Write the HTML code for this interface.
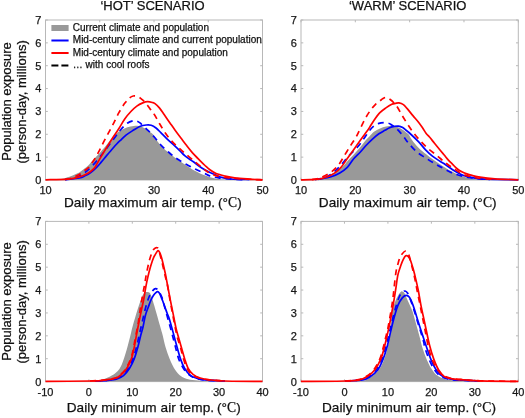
<!DOCTYPE html>
<html><head><meta charset="utf-8"><title>Population exposure</title>
<style>
html,body{margin:0;padding:0;background:#fff;}
body{width:525px;height:418px;overflow:hidden;}
svg{display:block;will-change:transform;filter:blur(0.35px);}
text{font-family:"Liberation Sans",sans-serif;fill:#1a1a1a;stroke:#111;stroke-width:0.25px;}
.tk{font-size:11px;}
.lg{font-size:10px;fill:#111;}
.ti{font-size:13px;fill:#111;}
.xl{font-size:13.6px;fill:#111;letter-spacing:0.07px;}
.yl{font-size:13px;fill:#111;}
</style></head>
<body>
<svg width="525" height="418" viewBox="0 0 525 418">
<rect width="525" height="418" fill="#fff"/>
<rect x="45.50" y="20.00" width="217.00" height="160.00" fill="none" stroke="#b8b8b8" stroke-width="1"/>
<line x1="45.50" y1="180.00" x2="45.50" y2="177.70" stroke="#b8b8b8"/>
<line x1="45.50" y1="20.00" x2="45.50" y2="22.30" stroke="#b8b8b8"/>
<text x="45.50" y="194.20" class="tk" text-anchor="middle">10</text>
<line x1="99.75" y1="180.00" x2="99.75" y2="177.70" stroke="#b8b8b8"/>
<line x1="99.75" y1="20.00" x2="99.75" y2="22.30" stroke="#b8b8b8"/>
<text x="99.75" y="194.20" class="tk" text-anchor="middle">20</text>
<line x1="154.00" y1="180.00" x2="154.00" y2="177.70" stroke="#b8b8b8"/>
<line x1="154.00" y1="20.00" x2="154.00" y2="22.30" stroke="#b8b8b8"/>
<text x="154.00" y="194.20" class="tk" text-anchor="middle">30</text>
<line x1="208.25" y1="180.00" x2="208.25" y2="177.70" stroke="#b8b8b8"/>
<line x1="208.25" y1="20.00" x2="208.25" y2="22.30" stroke="#b8b8b8"/>
<text x="208.25" y="194.20" class="tk" text-anchor="middle">40</text>
<line x1="262.50" y1="180.00" x2="262.50" y2="177.70" stroke="#b8b8b8"/>
<line x1="262.50" y1="20.00" x2="262.50" y2="22.30" stroke="#b8b8b8"/>
<text x="262.50" y="194.20" class="tk" text-anchor="middle">50</text>
<line x1="45.50" y1="180.00" x2="47.80" y2="180.00" stroke="#b8b8b8"/>
<line x1="262.50" y1="180.00" x2="260.20" y2="180.00" stroke="#b8b8b8"/>
<text x="41.30" y="183.90" class="tk" text-anchor="end">0</text>
<line x1="45.50" y1="157.14" x2="47.80" y2="157.14" stroke="#b8b8b8"/>
<line x1="262.50" y1="157.14" x2="260.20" y2="157.14" stroke="#b8b8b8"/>
<text x="41.30" y="161.04" class="tk" text-anchor="end">1</text>
<line x1="45.50" y1="134.29" x2="47.80" y2="134.29" stroke="#b8b8b8"/>
<line x1="262.50" y1="134.29" x2="260.20" y2="134.29" stroke="#b8b8b8"/>
<text x="41.30" y="138.19" class="tk" text-anchor="end">2</text>
<line x1="45.50" y1="111.43" x2="47.80" y2="111.43" stroke="#b8b8b8"/>
<line x1="262.50" y1="111.43" x2="260.20" y2="111.43" stroke="#b8b8b8"/>
<text x="41.30" y="115.33" class="tk" text-anchor="end">3</text>
<line x1="45.50" y1="88.57" x2="47.80" y2="88.57" stroke="#b8b8b8"/>
<line x1="262.50" y1="88.57" x2="260.20" y2="88.57" stroke="#b8b8b8"/>
<text x="41.30" y="92.47" class="tk" text-anchor="end">4</text>
<line x1="45.50" y1="65.71" x2="47.80" y2="65.71" stroke="#b8b8b8"/>
<line x1="262.50" y1="65.71" x2="260.20" y2="65.71" stroke="#b8b8b8"/>
<text x="41.30" y="69.61" class="tk" text-anchor="end">5</text>
<line x1="45.50" y1="42.86" x2="47.80" y2="42.86" stroke="#b8b8b8"/>
<line x1="262.50" y1="42.86" x2="260.20" y2="42.86" stroke="#b8b8b8"/>
<text x="41.30" y="46.76" class="tk" text-anchor="end">6</text>
<line x1="45.50" y1="20.00" x2="47.80" y2="20.00" stroke="#b8b8b8"/>
<line x1="262.50" y1="20.00" x2="260.20" y2="20.00" stroke="#b8b8b8"/>
<text x="41.30" y="23.90" class="tk" text-anchor="end">7</text>
<rect x="301.00" y="20.00" width="217.30" height="160.00" fill="none" stroke="#b8b8b8" stroke-width="1"/>
<line x1="301.00" y1="180.00" x2="301.00" y2="177.70" stroke="#b8b8b8"/>
<line x1="301.00" y1="20.00" x2="301.00" y2="22.30" stroke="#b8b8b8"/>
<text x="301.00" y="194.20" class="tk" text-anchor="middle">10</text>
<line x1="355.32" y1="180.00" x2="355.32" y2="177.70" stroke="#b8b8b8"/>
<line x1="355.32" y1="20.00" x2="355.32" y2="22.30" stroke="#b8b8b8"/>
<text x="355.32" y="194.20" class="tk" text-anchor="middle">20</text>
<line x1="409.65" y1="180.00" x2="409.65" y2="177.70" stroke="#b8b8b8"/>
<line x1="409.65" y1="20.00" x2="409.65" y2="22.30" stroke="#b8b8b8"/>
<text x="409.65" y="194.20" class="tk" text-anchor="middle">30</text>
<line x1="463.97" y1="180.00" x2="463.97" y2="177.70" stroke="#b8b8b8"/>
<line x1="463.97" y1="20.00" x2="463.97" y2="22.30" stroke="#b8b8b8"/>
<text x="463.97" y="194.20" class="tk" text-anchor="middle">40</text>
<line x1="518.30" y1="180.00" x2="518.30" y2="177.70" stroke="#b8b8b8"/>
<line x1="518.30" y1="20.00" x2="518.30" y2="22.30" stroke="#b8b8b8"/>
<text x="518.30" y="194.20" class="tk" text-anchor="middle">50</text>
<line x1="301.00" y1="180.00" x2="303.30" y2="180.00" stroke="#b8b8b8"/>
<line x1="518.30" y1="180.00" x2="516.00" y2="180.00" stroke="#b8b8b8"/>
<text x="296.80" y="183.90" class="tk" text-anchor="end">0</text>
<line x1="301.00" y1="157.14" x2="303.30" y2="157.14" stroke="#b8b8b8"/>
<line x1="518.30" y1="157.14" x2="516.00" y2="157.14" stroke="#b8b8b8"/>
<text x="296.80" y="161.04" class="tk" text-anchor="end">1</text>
<line x1="301.00" y1="134.29" x2="303.30" y2="134.29" stroke="#b8b8b8"/>
<line x1="518.30" y1="134.29" x2="516.00" y2="134.29" stroke="#b8b8b8"/>
<text x="296.80" y="138.19" class="tk" text-anchor="end">2</text>
<line x1="301.00" y1="111.43" x2="303.30" y2="111.43" stroke="#b8b8b8"/>
<line x1="518.30" y1="111.43" x2="516.00" y2="111.43" stroke="#b8b8b8"/>
<text x="296.80" y="115.33" class="tk" text-anchor="end">3</text>
<line x1="301.00" y1="88.57" x2="303.30" y2="88.57" stroke="#b8b8b8"/>
<line x1="518.30" y1="88.57" x2="516.00" y2="88.57" stroke="#b8b8b8"/>
<text x="296.80" y="92.47" class="tk" text-anchor="end">4</text>
<line x1="301.00" y1="65.71" x2="303.30" y2="65.71" stroke="#b8b8b8"/>
<line x1="518.30" y1="65.71" x2="516.00" y2="65.71" stroke="#b8b8b8"/>
<text x="296.80" y="69.61" class="tk" text-anchor="end">5</text>
<line x1="301.00" y1="42.86" x2="303.30" y2="42.86" stroke="#b8b8b8"/>
<line x1="518.30" y1="42.86" x2="516.00" y2="42.86" stroke="#b8b8b8"/>
<text x="296.80" y="46.76" class="tk" text-anchor="end">6</text>
<line x1="301.00" y1="20.00" x2="303.30" y2="20.00" stroke="#b8b8b8"/>
<line x1="518.30" y1="20.00" x2="516.00" y2="20.00" stroke="#b8b8b8"/>
<text x="296.80" y="23.90" class="tk" text-anchor="end">7</text>
<rect x="45.50" y="221.40" width="217.00" height="160.20" fill="none" stroke="#b8b8b8" stroke-width="1"/>
<line x1="45.50" y1="381.60" x2="45.50" y2="379.30" stroke="#b8b8b8"/>
<line x1="45.50" y1="221.40" x2="45.50" y2="223.70" stroke="#b8b8b8"/>
<text x="45.50" y="395.90" class="tk" text-anchor="middle">-10</text>
<line x1="88.90" y1="381.60" x2="88.90" y2="379.30" stroke="#b8b8b8"/>
<line x1="88.90" y1="221.40" x2="88.90" y2="223.70" stroke="#b8b8b8"/>
<text x="88.90" y="395.90" class="tk" text-anchor="middle">0</text>
<line x1="132.30" y1="381.60" x2="132.30" y2="379.30" stroke="#b8b8b8"/>
<line x1="132.30" y1="221.40" x2="132.30" y2="223.70" stroke="#b8b8b8"/>
<text x="132.30" y="395.90" class="tk" text-anchor="middle">10</text>
<line x1="175.70" y1="381.60" x2="175.70" y2="379.30" stroke="#b8b8b8"/>
<line x1="175.70" y1="221.40" x2="175.70" y2="223.70" stroke="#b8b8b8"/>
<text x="175.70" y="395.90" class="tk" text-anchor="middle">20</text>
<line x1="219.10" y1="381.60" x2="219.10" y2="379.30" stroke="#b8b8b8"/>
<line x1="219.10" y1="221.40" x2="219.10" y2="223.70" stroke="#b8b8b8"/>
<text x="219.10" y="395.90" class="tk" text-anchor="middle">30</text>
<line x1="262.50" y1="381.60" x2="262.50" y2="379.30" stroke="#b8b8b8"/>
<line x1="262.50" y1="221.40" x2="262.50" y2="223.70" stroke="#b8b8b8"/>
<text x="262.50" y="395.90" class="tk" text-anchor="middle">40</text>
<line x1="45.50" y1="381.60" x2="47.80" y2="381.60" stroke="#b8b8b8"/>
<line x1="262.50" y1="381.60" x2="260.20" y2="381.60" stroke="#b8b8b8"/>
<text x="41.30" y="385.50" class="tk" text-anchor="end">0</text>
<line x1="45.50" y1="358.71" x2="47.80" y2="358.71" stroke="#b8b8b8"/>
<line x1="262.50" y1="358.71" x2="260.20" y2="358.71" stroke="#b8b8b8"/>
<text x="41.30" y="362.61" class="tk" text-anchor="end">1</text>
<line x1="45.50" y1="335.83" x2="47.80" y2="335.83" stroke="#b8b8b8"/>
<line x1="262.50" y1="335.83" x2="260.20" y2="335.83" stroke="#b8b8b8"/>
<text x="41.30" y="339.73" class="tk" text-anchor="end">2</text>
<line x1="45.50" y1="312.94" x2="47.80" y2="312.94" stroke="#b8b8b8"/>
<line x1="262.50" y1="312.94" x2="260.20" y2="312.94" stroke="#b8b8b8"/>
<text x="41.30" y="316.84" class="tk" text-anchor="end">3</text>
<line x1="45.50" y1="290.06" x2="47.80" y2="290.06" stroke="#b8b8b8"/>
<line x1="262.50" y1="290.06" x2="260.20" y2="290.06" stroke="#b8b8b8"/>
<text x="41.30" y="293.96" class="tk" text-anchor="end">4</text>
<line x1="45.50" y1="267.17" x2="47.80" y2="267.17" stroke="#b8b8b8"/>
<line x1="262.50" y1="267.17" x2="260.20" y2="267.17" stroke="#b8b8b8"/>
<text x="41.30" y="271.07" class="tk" text-anchor="end">5</text>
<line x1="45.50" y1="244.29" x2="47.80" y2="244.29" stroke="#b8b8b8"/>
<line x1="262.50" y1="244.29" x2="260.20" y2="244.29" stroke="#b8b8b8"/>
<text x="41.30" y="248.19" class="tk" text-anchor="end">6</text>
<line x1="45.50" y1="221.40" x2="47.80" y2="221.40" stroke="#b8b8b8"/>
<line x1="262.50" y1="221.40" x2="260.20" y2="221.40" stroke="#b8b8b8"/>
<text x="41.30" y="225.30" class="tk" text-anchor="end">7</text>
<rect x="301.00" y="221.40" width="217.30" height="160.20" fill="none" stroke="#b8b8b8" stroke-width="1"/>
<line x1="301.00" y1="381.60" x2="301.00" y2="379.30" stroke="#b8b8b8"/>
<line x1="301.00" y1="221.40" x2="301.00" y2="223.70" stroke="#b8b8b8"/>
<text x="301.00" y="395.90" class="tk" text-anchor="middle">-10</text>
<line x1="344.46" y1="381.60" x2="344.46" y2="379.30" stroke="#b8b8b8"/>
<line x1="344.46" y1="221.40" x2="344.46" y2="223.70" stroke="#b8b8b8"/>
<text x="344.46" y="395.90" class="tk" text-anchor="middle">0</text>
<line x1="387.92" y1="381.60" x2="387.92" y2="379.30" stroke="#b8b8b8"/>
<line x1="387.92" y1="221.40" x2="387.92" y2="223.70" stroke="#b8b8b8"/>
<text x="387.92" y="395.90" class="tk" text-anchor="middle">10</text>
<line x1="431.38" y1="381.60" x2="431.38" y2="379.30" stroke="#b8b8b8"/>
<line x1="431.38" y1="221.40" x2="431.38" y2="223.70" stroke="#b8b8b8"/>
<text x="431.38" y="395.90" class="tk" text-anchor="middle">20</text>
<line x1="474.84" y1="381.60" x2="474.84" y2="379.30" stroke="#b8b8b8"/>
<line x1="474.84" y1="221.40" x2="474.84" y2="223.70" stroke="#b8b8b8"/>
<text x="474.84" y="395.90" class="tk" text-anchor="middle">30</text>
<line x1="518.30" y1="381.60" x2="518.30" y2="379.30" stroke="#b8b8b8"/>
<line x1="518.30" y1="221.40" x2="518.30" y2="223.70" stroke="#b8b8b8"/>
<text x="518.30" y="395.90" class="tk" text-anchor="middle">40</text>
<line x1="301.00" y1="381.60" x2="303.30" y2="381.60" stroke="#b8b8b8"/>
<line x1="518.30" y1="381.60" x2="516.00" y2="381.60" stroke="#b8b8b8"/>
<text x="296.80" y="385.50" class="tk" text-anchor="end">0</text>
<line x1="301.00" y1="358.71" x2="303.30" y2="358.71" stroke="#b8b8b8"/>
<line x1="518.30" y1="358.71" x2="516.00" y2="358.71" stroke="#b8b8b8"/>
<text x="296.80" y="362.61" class="tk" text-anchor="end">1</text>
<line x1="301.00" y1="335.83" x2="303.30" y2="335.83" stroke="#b8b8b8"/>
<line x1="518.30" y1="335.83" x2="516.00" y2="335.83" stroke="#b8b8b8"/>
<text x="296.80" y="339.73" class="tk" text-anchor="end">2</text>
<line x1="301.00" y1="312.94" x2="303.30" y2="312.94" stroke="#b8b8b8"/>
<line x1="518.30" y1="312.94" x2="516.00" y2="312.94" stroke="#b8b8b8"/>
<text x="296.80" y="316.84" class="tk" text-anchor="end">3</text>
<line x1="301.00" y1="290.06" x2="303.30" y2="290.06" stroke="#b8b8b8"/>
<line x1="518.30" y1="290.06" x2="516.00" y2="290.06" stroke="#b8b8b8"/>
<text x="296.80" y="293.96" class="tk" text-anchor="end">4</text>
<line x1="301.00" y1="267.17" x2="303.30" y2="267.17" stroke="#b8b8b8"/>
<line x1="518.30" y1="267.17" x2="516.00" y2="267.17" stroke="#b8b8b8"/>
<text x="296.80" y="271.07" class="tk" text-anchor="end">5</text>
<line x1="301.00" y1="244.29" x2="303.30" y2="244.29" stroke="#b8b8b8"/>
<line x1="518.30" y1="244.29" x2="516.00" y2="244.29" stroke="#b8b8b8"/>
<text x="296.80" y="248.19" class="tk" text-anchor="end">6</text>
<line x1="301.00" y1="221.40" x2="303.30" y2="221.40" stroke="#b8b8b8"/>
<line x1="518.30" y1="221.40" x2="516.00" y2="221.40" stroke="#b8b8b8"/>
<text x="296.80" y="225.30" class="tk" text-anchor="end">7</text>
<path d="M45.50 179.80 C47.08 179.78 52.58 179.80 55.00 179.70 C57.42 179.60 58.23 179.50 60.00 179.20 C61.77 178.90 63.40 178.57 65.60 177.90 C67.80 177.23 70.92 176.08 73.20 175.20 C75.48 174.32 77.52 173.62 79.30 172.60 C81.08 171.58 82.37 170.32 83.90 169.10 C85.43 167.88 87.10 166.68 88.50 165.30 C89.90 163.92 90.60 162.68 92.30 160.80 C94.00 158.92 96.75 156.13 98.70 154.00 C100.65 151.87 102.12 150.25 104.00 148.00 C105.88 145.75 108.32 142.45 110.00 140.50 C111.68 138.55 112.68 137.75 114.10 136.30 C115.52 134.85 116.77 133.08 118.50 131.80 C120.23 130.52 122.50 129.47 124.50 128.60 C126.50 127.73 128.45 127.07 130.50 126.60 C132.55 126.13 135.05 125.83 136.80 125.80 C138.55 125.77 139.77 126.05 141.00 126.40 C142.23 126.75 142.97 127.22 144.20 127.90 C145.43 128.58 147.43 129.82 148.40 130.50 C149.37 131.18 149.20 131.33 150.00 132.00 C150.80 132.67 152.20 133.28 153.20 134.50 C154.20 135.72 154.87 137.63 156.00 139.30 C157.13 140.97 158.67 142.92 160.00 144.50 C161.33 146.08 162.75 147.58 164.00 148.80 C165.25 150.02 165.77 150.40 167.50 151.80 C169.23 153.20 172.07 155.45 174.40 157.20 C176.73 158.95 179.12 160.65 181.50 162.30 C183.88 163.95 186.72 165.80 188.70 167.10 C190.68 168.40 191.22 168.90 193.40 170.10 C195.58 171.30 199.02 173.12 201.80 174.30 C204.58 175.48 207.30 176.42 210.10 177.20 C212.90 177.98 215.28 178.57 218.60 179.00 C221.92 179.43 222.68 179.67 230.00 179.80 C237.32 179.93 257.08 179.80 262.50 179.80 L262.50 180.00 L45.50 180.00 Z" fill="#999999" stroke="none"/>
<path d="M65.00 179.60 C67.38 179.33 75.97 178.63 79.30 178.00 C82.63 177.37 83.10 176.72 85.00 175.80 C86.90 174.88 88.77 173.92 90.70 172.50 C92.63 171.08 94.88 168.98 96.60 167.30 C98.32 165.62 99.33 164.35 101.00 162.40 C102.67 160.45 104.93 157.58 106.60 155.60 C108.27 153.62 109.32 152.43 111.00 150.50 C112.68 148.57 115.03 145.78 116.70 144.00 C118.37 142.22 119.45 141.27 121.00 139.80 C122.55 138.33 124.05 136.73 126.00 135.20 C127.95 133.67 130.30 132.10 132.70 130.60 C135.10 129.10 138.12 127.13 140.40 126.20 C142.68 125.27 144.60 125.15 146.40 125.00 C148.20 124.85 149.60 124.80 151.20 125.30 C152.80 125.80 154.40 126.78 156.00 128.00 C157.60 129.22 159.02 130.83 160.80 132.60 C162.58 134.37 164.68 136.68 166.70 138.60 C168.72 140.52 170.73 142.10 172.90 144.10 C175.07 146.10 177.68 148.63 179.70 150.60 C181.72 152.57 182.72 154.03 185.00 155.90 C187.28 157.77 190.60 159.78 193.40 161.80 C196.20 163.82 199.02 166.20 201.80 168.00 C204.58 169.80 207.90 171.48 210.10 172.60 C212.30 173.72 213.10 173.90 215.00 174.70 C216.90 175.50 218.83 176.68 221.50 177.40 C224.17 178.12 226.33 178.63 231.00 179.00 C235.67 179.37 246.42 179.50 249.50 179.60" fill="none" stroke="#0000ff" stroke-width="1.7" stroke-linejoin="round"/>
<path d="M65.00 179.50 C66.67 179.25 72.33 178.75 75.00 178.00 C77.67 177.25 78.95 176.23 81.00 175.00 C83.05 173.77 84.92 172.67 87.30 170.60 C89.68 168.53 92.80 165.37 95.30 162.60 C97.80 159.83 100.10 156.80 102.30 154.00 C104.50 151.20 106.35 148.63 108.50 145.80 C110.65 142.97 113.13 139.72 115.20 137.00 C117.27 134.28 118.88 131.78 120.90 129.50 C122.92 127.22 125.25 124.75 127.30 123.30 C129.35 121.85 131.62 121.18 133.20 120.80 C134.78 120.42 135.67 120.65 136.80 121.00 C137.93 121.35 139.00 122.15 140.00 122.90 C141.00 123.65 141.33 124.12 142.80 125.50 C144.27 126.88 146.88 129.28 148.80 131.20 C150.72 133.12 152.23 134.65 154.30 137.00 C156.37 139.35 158.75 142.72 161.20 145.30 C163.65 147.88 166.37 150.25 169.00 152.50 C171.63 154.75 174.07 156.80 177.00 158.80 C179.93 160.80 183.48 162.75 186.60 164.50 C189.72 166.25 192.72 167.83 195.70 169.30 C198.68 170.77 202.12 172.18 204.50 173.30 C206.88 174.42 207.65 175.23 210.00 176.00 C212.35 176.77 215.10 177.38 218.60 177.90 C222.10 178.42 226.60 178.78 231.00 179.10 C235.40 179.42 242.67 179.68 245.00 179.80" fill="none" stroke="#0000ff" stroke-width="1.7" stroke-linejoin="round" stroke-dasharray="6 4.8"/>
<path d="M45.50 179.80 C49.23 179.68 62.27 179.58 67.90 179.10 C73.53 178.62 75.88 177.93 79.30 176.90 C82.72 175.87 85.93 174.33 88.40 172.90 C90.87 171.47 92.72 169.73 94.10 168.30 C95.48 166.87 95.43 166.42 96.70 164.30 C97.97 162.18 99.88 158.65 101.70 155.60 C103.52 152.55 105.65 149.13 107.60 146.00 C109.55 142.87 111.52 139.72 113.40 136.80 C115.28 133.88 116.98 131.52 118.90 128.50 C120.82 125.48 122.90 121.53 124.90 118.70 C126.90 115.87 128.92 113.60 130.90 111.50 C132.88 109.40 134.82 107.53 136.80 106.10 C138.78 104.67 141.00 103.63 142.80 102.90 C144.60 102.17 146.00 101.77 147.60 101.70 C149.20 101.63 151.17 102.17 152.40 102.50 C153.63 102.83 153.80 102.77 155.00 103.70 C156.20 104.63 158.05 106.25 159.60 108.10 C161.15 109.95 162.52 112.25 164.30 114.80 C166.08 117.35 168.50 120.83 170.30 123.40 C172.10 125.97 173.30 127.72 175.10 130.20 C176.90 132.68 179.28 135.87 181.10 138.30 C182.92 140.73 184.13 142.42 186.00 144.80 C187.87 147.18 189.97 149.97 192.30 152.60 C194.63 155.23 197.88 158.45 200.00 160.60 C202.12 162.75 203.35 163.97 205.00 165.50 C206.65 167.03 208.05 168.47 209.90 169.80 C211.75 171.13 213.62 172.47 216.10 173.50 C218.58 174.53 221.70 175.27 224.80 176.00 C227.90 176.73 230.58 177.38 234.70 177.90 C238.82 178.42 244.87 178.78 249.50 179.10 C254.13 179.42 260.33 179.68 262.50 179.80" fill="none" stroke="#ff0000" stroke-width="1.7" stroke-linejoin="round"/>
<path d="M65.00 179.40 C66.17 179.17 69.82 178.72 72.00 178.00 C74.18 177.28 76.10 176.27 78.10 175.10 C80.10 173.93 82.28 172.23 84.00 171.00 C85.72 169.77 87.07 169.07 88.40 167.70 C89.73 166.33 90.90 164.33 92.00 162.80 C93.10 161.27 93.80 160.48 95.00 158.50 C96.20 156.52 97.67 153.83 99.20 150.90 C100.73 147.97 102.53 144.10 104.20 140.90 C105.87 137.70 107.55 134.80 109.20 131.70 C110.85 128.60 112.48 125.47 114.10 122.30 C115.72 119.13 117.10 115.90 118.90 112.70 C120.70 109.50 123.10 105.58 124.90 103.10 C126.70 100.62 128.32 98.98 129.70 97.80 C131.08 96.62 131.82 96.20 133.20 96.00 C134.58 95.80 136.40 95.90 138.00 96.60 C139.60 97.30 141.20 98.72 142.80 100.20 C144.40 101.68 146.00 103.50 147.60 105.50 C149.20 107.50 151.20 110.57 152.40 112.20 C153.60 113.83 153.60 113.38 154.80 115.30 C156.00 117.22 157.82 120.72 159.60 123.70 C161.38 126.68 163.52 130.35 165.50 133.20 C167.48 136.05 169.13 138.22 171.50 140.80 C173.87 143.38 177.00 146.23 179.70 148.70 C182.40 151.17 185.03 153.32 187.70 155.60 C190.37 157.88 193.23 160.33 195.70 162.40 C198.17 164.47 200.55 166.45 202.50 168.00 C204.45 169.55 205.33 170.47 207.40 171.70 C209.47 172.93 212.00 174.43 214.90 175.40 C217.80 176.37 221.10 176.95 224.80 177.50 C228.50 178.05 230.82 178.32 237.10 178.70 C243.38 179.08 258.27 179.62 262.50 179.80" fill="none" stroke="#ff0000" stroke-width="1.7" stroke-linejoin="round" stroke-dasharray="6 4.8"/>
<path d="M301.00 179.80 C302.58 179.78 308.08 179.80 310.50 179.70 C312.92 179.60 313.73 179.50 315.50 179.20 C317.27 178.90 318.90 178.57 321.10 177.90 C323.30 177.23 326.42 176.08 328.70 175.20 C330.98 174.32 333.02 173.62 334.80 172.60 C336.58 171.58 337.87 170.32 339.40 169.10 C340.93 167.88 342.60 166.68 344.00 165.30 C345.40 163.92 346.10 162.68 347.80 160.80 C349.50 158.92 352.25 156.13 354.20 154.00 C356.15 151.87 357.62 150.25 359.50 148.00 C361.38 145.75 363.82 142.45 365.50 140.50 C367.18 138.55 368.18 137.75 369.60 136.30 C371.02 134.85 372.27 133.08 374.00 131.80 C375.73 130.52 378.00 129.47 380.00 128.60 C382.00 127.73 383.95 127.07 386.00 126.60 C388.05 126.13 390.55 125.83 392.30 125.80 C394.05 125.77 395.27 126.05 396.50 126.40 C397.73 126.75 398.47 127.22 399.70 127.90 C400.93 128.58 402.93 129.82 403.90 130.50 C404.87 131.18 404.70 131.33 405.50 132.00 C406.30 132.67 407.70 133.28 408.70 134.50 C409.70 135.72 410.37 137.63 411.50 139.30 C412.63 140.97 414.17 142.92 415.50 144.50 C416.83 146.08 418.25 147.58 419.50 148.80 C420.75 150.02 421.27 150.40 423.00 151.80 C424.73 153.20 427.57 155.45 429.90 157.20 C432.23 158.95 434.62 160.65 437.00 162.30 C439.38 163.95 442.22 165.80 444.20 167.10 C446.18 168.40 446.72 168.90 448.90 170.10 C451.08 171.30 454.52 173.12 457.30 174.30 C460.08 175.48 462.80 176.42 465.60 177.20 C468.40 177.98 470.78 178.57 474.10 179.00 C477.42 179.43 478.13 179.67 485.50 179.80 C492.87 179.93 512.83 179.80 518.30 179.80 L518.30 180.00 L301.00 180.00 Z" fill="#999999" stroke="none"/>
<path d="M318.00 179.50 C320.18 179.03 327.47 177.80 331.10 176.70 C334.73 175.60 337.10 174.47 339.80 172.90 C342.50 171.33 345.02 169.62 347.30 167.30 C349.58 164.98 351.32 161.55 353.50 159.00 C355.68 156.45 358.23 154.33 360.40 152.00 C362.57 149.67 364.53 147.12 366.50 145.00 C368.47 142.88 370.13 141.17 372.20 139.30 C374.27 137.43 376.77 135.30 378.90 133.80 C381.03 132.30 383.22 131.30 385.00 130.30 C386.78 129.30 388.05 128.45 389.60 127.80 C391.15 127.15 392.82 126.68 394.30 126.40 C395.78 126.12 397.10 125.90 398.50 126.10 C399.90 126.30 401.40 126.87 402.70 127.60 C404.00 128.33 405.08 129.52 406.30 130.50 C407.52 131.48 407.93 131.60 410.00 133.50 C412.07 135.40 416.10 139.17 418.70 141.90 C421.30 144.63 423.32 147.52 425.60 149.90 C427.88 152.28 430.00 154.30 432.40 156.20 C434.80 158.10 438.03 160.03 440.00 161.30 C441.97 162.57 442.80 162.88 444.20 163.80 C445.60 164.72 447.00 165.82 448.40 166.80 C449.80 167.78 451.20 168.80 452.60 169.70 C454.00 170.60 455.27 171.37 456.80 172.20 C458.33 173.03 460.13 174.00 461.80 174.70 C463.47 175.40 464.60 175.82 466.80 176.40 C469.00 176.98 471.97 177.73 475.00 178.20 C478.03 178.67 477.78 178.93 485.00 179.20 C492.22 179.47 512.75 179.70 518.30 179.80" fill="none" stroke="#0000ff" stroke-width="1.7" stroke-linejoin="round"/>
<path d="M315.00 179.60 C316.67 179.25 321.90 178.72 325.00 177.50 C328.10 176.28 330.92 174.40 333.60 172.30 C336.28 170.20 338.62 167.60 341.10 164.90 C343.58 162.20 345.87 158.95 348.50 156.10 C351.13 153.25 354.38 150.63 356.90 147.80 C359.42 144.97 361.53 141.93 363.60 139.10 C365.67 136.27 367.55 133.02 369.30 130.80 C371.05 128.58 372.50 127.03 374.10 125.80 C375.70 124.57 377.30 123.93 378.90 123.40 C380.50 122.87 382.27 122.67 383.70 122.60 C385.13 122.53 386.35 122.73 387.50 123.00 C388.65 123.27 389.10 123.28 390.60 124.20 C392.10 125.12 394.68 126.87 396.50 128.50 C398.32 130.13 400.08 132.33 401.50 134.00 C402.92 135.67 403.85 137.00 405.00 138.50 C406.15 140.00 406.50 140.82 408.40 143.00 C410.30 145.18 413.53 149.12 416.40 151.60 C419.27 154.08 422.55 155.90 425.60 157.90 C428.65 159.90 431.65 161.80 434.70 163.60 C437.75 165.40 440.85 167.08 443.90 168.70 C446.95 170.32 449.97 172.07 453.00 173.30 C456.03 174.53 458.43 175.23 462.10 176.10 C465.77 176.97 470.35 177.93 475.00 178.50 C479.65 179.07 487.50 179.33 490.00 179.50" fill="none" stroke="#0000ff" stroke-width="1.7" stroke-linejoin="round" stroke-dasharray="6 4.8"/>
<path d="M301.00 179.80 C302.50 179.78 307.05 179.80 310.00 179.70 C312.95 179.60 315.80 179.70 318.70 179.20 C321.60 178.70 324.70 177.75 327.40 176.70 C330.10 175.65 332.62 174.47 334.90 172.90 C337.18 171.33 339.03 169.68 341.10 167.30 C343.17 164.92 345.23 161.50 347.30 158.60 C349.37 155.70 351.42 152.82 353.50 149.90 C355.58 146.98 357.95 143.68 359.80 141.10 C361.65 138.52 363.00 136.63 364.60 134.40 C366.20 132.17 367.85 130.02 369.40 127.70 C370.95 125.38 372.15 123.00 373.90 120.50 C375.65 118.00 377.90 114.80 379.90 112.70 C381.90 110.60 383.92 109.30 385.90 107.90 C387.88 106.50 390.22 105.05 391.80 104.30 C393.38 103.55 394.20 103.63 395.40 103.40 C396.60 103.17 397.67 102.70 399.00 102.90 C400.33 103.10 402.07 103.68 403.40 104.60 C404.73 105.52 405.42 106.57 407.00 108.40 C408.58 110.23 410.92 113.22 412.90 115.60 C414.88 117.98 417.22 120.55 418.90 122.70 C420.58 124.85 421.82 126.75 423.00 128.50 C424.18 130.25 424.88 131.73 426.00 133.20 C427.12 134.67 428.28 135.62 429.70 137.30 C431.12 138.98 432.78 141.18 434.50 143.30 C436.22 145.42 438.38 148.05 440.00 150.00 C441.62 151.95 442.80 153.32 444.20 155.00 C445.60 156.68 447.00 158.55 448.40 160.10 C449.80 161.65 451.20 162.90 452.60 164.30 C454.00 165.70 455.27 167.25 456.80 168.50 C458.33 169.75 460.13 170.90 461.80 171.80 C463.47 172.70 465.10 173.30 466.80 173.90 C468.50 174.50 469.80 174.85 472.00 175.40 C474.20 175.95 476.17 176.63 480.00 177.20 C483.83 177.77 488.62 178.37 495.00 178.80 C501.38 179.23 514.42 179.63 518.30 179.80" fill="none" stroke="#ff0000" stroke-width="1.7" stroke-linejoin="round"/>
<path d="M312.00 179.60 C313.00 179.42 315.85 179.13 318.00 178.50 C320.15 177.87 322.50 177.03 324.90 175.80 C327.30 174.57 330.12 172.92 332.40 171.10 C334.68 169.28 336.53 167.60 338.60 164.90 C340.67 162.20 342.73 158.23 344.80 154.90 C346.87 151.57 349.13 147.85 351.00 144.90 C352.87 141.95 354.38 140.07 356.00 137.20 C357.62 134.33 359.12 130.88 360.70 127.70 C362.28 124.52 363.90 120.97 365.50 118.10 C367.10 115.23 368.70 112.72 370.30 110.50 C371.90 108.28 373.52 106.38 375.10 104.80 C376.68 103.22 378.48 102.03 379.80 101.00 C381.12 99.97 381.98 99.20 383.00 98.60 C384.02 98.00 384.83 97.33 385.90 97.40 C386.97 97.47 388.02 98.05 389.40 99.00 C390.78 99.95 392.83 101.68 394.20 103.10 C395.57 104.52 396.27 105.42 397.60 107.50 C398.93 109.58 400.43 112.67 402.20 115.60 C403.97 118.53 406.22 122.12 408.20 125.10 C410.18 128.08 411.92 130.70 414.10 133.50 C416.28 136.30 418.90 139.32 421.30 141.90 C423.70 144.48 425.88 146.72 428.50 149.00 C431.12 151.28 434.25 153.37 437.00 155.60 C439.75 157.83 442.33 160.32 445.00 162.40 C447.67 164.48 450.15 166.18 453.00 168.10 C455.85 170.02 459.27 172.50 462.10 173.90 C464.93 175.30 467.02 175.77 470.00 176.50 C472.98 177.23 475.83 177.80 480.00 178.30 C484.17 178.80 492.50 179.30 495.00 179.50" fill="none" stroke="#ff0000" stroke-width="1.7" stroke-linejoin="round" stroke-dasharray="6 4.8"/>
<path d="M45.50 381.40 C51.25 381.40 71.58 381.47 80.00 381.40 C88.42 381.33 92.17 381.32 96.00 381.00 C99.83 380.68 100.83 380.15 103.00 379.50 C105.17 378.85 107.00 378.10 109.00 377.10 C111.00 376.10 113.40 374.67 115.00 373.50 C116.60 372.33 117.47 371.62 118.60 370.10 C119.73 368.58 120.85 366.50 121.80 364.40 C122.75 362.30 123.50 359.90 124.30 357.50 C125.10 355.10 125.85 352.63 126.60 350.00 C127.35 347.37 128.08 344.47 128.80 341.70 C129.52 338.93 130.20 336.18 130.90 333.40 C131.60 330.62 131.95 328.77 133.00 325.00 C134.05 321.23 135.78 315.32 137.20 310.80 C138.62 306.28 140.45 300.70 141.50 297.90 C142.55 295.10 142.90 294.95 143.50 294.00 C144.10 293.05 144.23 292.50 145.10 292.20 C145.97 291.90 147.73 291.73 148.70 292.20 C149.67 292.67 150.07 293.08 150.90 295.00 C151.73 296.92 152.75 300.58 153.70 303.70 C154.65 306.82 155.52 309.88 156.60 313.70 C157.68 317.52 159.17 322.92 160.20 326.60 C161.23 330.28 161.92 332.40 162.80 335.80 C163.68 339.20 164.35 343.15 165.50 347.00 C166.65 350.85 168.10 355.12 169.70 358.90 C171.30 362.68 173.20 366.82 175.10 369.70 C177.00 372.58 178.92 374.62 181.10 376.20 C183.28 377.78 185.42 378.50 188.20 379.20 C190.98 379.90 194.17 380.07 197.80 380.40 C201.43 380.73 199.22 381.03 210.00 381.20 C220.78 381.37 253.75 381.37 262.50 381.40 L262.50 381.60 L45.50 381.60 Z" fill="#999999" stroke="none"/>
<path d="M95.00 381.20 C97.15 381.07 104.35 380.73 107.90 380.40 C111.45 380.07 113.70 380.00 116.30 379.20 C118.90 378.40 121.32 377.38 123.50 375.60 C125.68 373.82 127.62 371.28 129.40 368.50 C131.18 365.72 132.77 362.57 134.20 358.90 C135.63 355.23 136.90 350.48 138.00 346.50 C139.10 342.52 139.97 338.25 140.80 335.00 C141.63 331.75 142.22 330.33 143.00 327.00 C143.78 323.67 144.60 318.37 145.50 315.00 C146.40 311.63 147.50 309.28 148.40 306.80 C149.30 304.32 150.07 301.98 150.90 300.10 C151.73 298.22 152.57 296.75 153.40 295.50 C154.23 294.25 155.20 293.25 155.90 292.60 C156.60 291.95 157.03 291.53 157.60 291.60 C158.17 291.67 158.75 292.22 159.30 293.00 C159.85 293.78 160.28 294.83 160.90 296.30 C161.52 297.77 162.30 299.92 163.00 301.80 C163.70 303.68 164.40 305.65 165.10 307.60 C165.80 309.55 166.47 311.53 167.20 313.50 C167.93 315.47 168.52 316.25 169.50 319.40 C170.48 322.55 171.98 328.30 173.10 332.40 C174.22 336.50 174.97 339.58 176.20 344.00 C177.43 348.42 179.08 354.82 180.50 358.90 C181.92 362.98 183.02 365.72 184.70 368.50 C186.38 371.28 188.42 373.92 190.60 375.60 C192.78 377.28 195.00 377.83 197.80 378.60 C200.60 379.37 202.87 379.77 207.40 380.20 C211.93 380.63 222.07 381.03 225.00 381.20" fill="none" stroke="#0000ff" stroke-width="1.7" stroke-linejoin="round"/>
<path d="M95.00 381.20 C96.83 381.05 102.67 380.70 106.00 380.30 C109.33 379.90 112.33 379.63 115.00 378.80 C117.67 377.97 119.83 377.02 122.00 375.30 C124.17 373.58 126.20 371.23 128.00 368.50 C129.80 365.77 131.38 362.48 132.80 358.90 C134.22 355.32 135.47 350.82 136.50 347.00 C137.53 343.18 138.17 339.63 139.00 336.00 C139.83 332.37 140.70 328.70 141.50 325.20 C142.30 321.70 143.08 318.03 143.80 315.00 C144.52 311.97 145.03 309.75 145.80 307.00 C146.57 304.25 147.62 300.67 148.40 298.50 C149.18 296.33 149.73 295.37 150.50 294.00 C151.27 292.63 152.17 291.18 153.00 290.30 C153.83 289.42 154.75 288.83 155.50 288.70 C156.25 288.57 156.72 288.68 157.50 289.50 C158.28 290.32 159.37 292.02 160.20 293.60 C161.03 295.18 161.78 296.85 162.50 299.00 C163.22 301.15 163.57 303.10 164.50 306.50 C165.43 309.90 166.90 315.08 168.10 319.40 C169.30 323.72 170.53 328.05 171.70 332.40 C172.87 336.75 173.93 341.08 175.10 345.50 C176.27 349.92 177.30 355.07 178.70 358.90 C180.10 362.73 181.72 365.82 183.50 368.50 C185.28 371.18 187.32 373.37 189.40 375.00 C191.48 376.63 193.40 377.47 196.00 378.30 C198.60 379.13 200.17 379.52 205.00 380.00 C209.83 380.48 221.67 381.00 225.00 381.20" fill="none" stroke="#0000ff" stroke-width="1.7" stroke-linejoin="round" stroke-dasharray="6 4.8"/>
<path d="M45.50 381.40 C52.92 381.33 80.58 381.17 90.00 381.00 C99.42 380.83 98.67 380.68 102.00 380.40 C105.33 380.12 107.60 379.70 110.00 379.30 C112.40 378.90 114.62 378.70 116.40 378.00 C118.18 377.30 119.25 376.30 120.70 375.10 C122.15 373.90 123.72 372.58 125.10 370.80 C126.48 369.02 127.87 366.67 129.00 364.40 C130.13 362.13 131.10 359.68 131.90 357.20 C132.70 354.72 133.23 352.12 133.80 349.50 C134.37 346.88 134.80 344.18 135.30 341.50 C135.80 338.82 136.28 336.15 136.80 333.40 C137.32 330.65 137.70 328.57 138.40 325.00 C139.10 321.43 140.13 316.17 141.00 312.00 C141.87 307.83 142.90 303.58 143.60 300.00 C144.30 296.42 144.67 293.52 145.20 290.50 C145.73 287.48 146.17 284.95 146.80 281.90 C147.43 278.85 148.28 275.07 149.00 272.20 C149.72 269.33 150.30 267.20 151.10 264.70 C151.90 262.20 152.90 259.23 153.80 257.20 C154.70 255.17 155.80 253.58 156.50 252.50 C157.20 251.42 157.50 250.75 158.00 250.70 C158.50 250.65 158.92 251.07 159.50 252.20 C160.08 253.33 160.83 255.28 161.50 257.50 C162.17 259.72 162.87 262.83 163.50 265.50 C164.13 268.17 164.65 270.33 165.30 273.50 C165.95 276.67 166.58 280.18 167.40 284.50 C168.22 288.82 169.25 294.53 170.20 299.40 C171.15 304.27 172.13 308.92 173.10 313.70 C174.07 318.48 175.07 324.05 176.00 328.10 C176.93 332.15 177.75 334.60 178.70 338.00 C179.65 341.40 180.70 345.00 181.70 348.50 C182.70 352.00 183.62 355.67 184.70 359.00 C185.78 362.33 186.82 365.93 188.20 368.50 C189.58 371.07 191.00 372.82 193.00 374.40 C195.00 375.98 197.40 377.10 200.20 378.00 C203.00 378.90 205.67 379.30 209.80 379.80 C213.93 380.30 216.22 380.73 225.00 381.00 C233.78 381.27 256.25 381.33 262.50 381.40" fill="none" stroke="#ff0000" stroke-width="1.7" stroke-linejoin="round"/>
<path d="M90.00 381.00 C92.00 380.88 98.67 380.60 102.00 380.30 C105.33 380.00 107.67 379.62 110.00 379.20 C112.33 378.78 114.30 378.53 116.00 377.80 C117.70 377.07 118.77 376.03 120.20 374.80 C121.63 373.57 123.22 372.20 124.60 370.40 C125.98 368.60 127.37 366.27 128.50 364.00 C129.63 361.73 130.60 359.30 131.40 356.80 C132.20 354.30 132.73 351.63 133.30 349.00 C133.87 346.37 134.30 343.67 134.80 341.00 C135.30 338.33 135.77 335.75 136.30 333.00 C136.83 330.25 137.37 328.33 138.00 324.50 C138.63 320.67 139.35 314.77 140.10 310.00 C140.85 305.23 141.73 300.22 142.50 295.90 C143.27 291.58 144.07 287.68 144.70 284.10 C145.33 280.52 145.77 277.28 146.30 274.40 C146.83 271.52 147.37 269.20 147.90 266.80 C148.43 264.40 148.93 262.10 149.50 260.00 C150.07 257.90 150.72 255.83 151.30 254.20 C151.88 252.57 152.38 251.20 153.00 250.20 C153.62 249.20 154.30 248.60 155.00 248.20 C155.70 247.80 156.62 247.58 157.20 247.80 C157.78 248.02 157.88 247.80 158.50 249.50 C159.12 251.20 160.15 255.17 160.90 258.00 C161.65 260.83 162.28 263.50 163.00 266.50 C163.72 269.50 164.47 272.92 165.20 276.00 C165.93 279.08 166.68 281.50 167.40 285.00 C168.12 288.50 168.67 292.33 169.50 297.00 C170.33 301.67 171.43 307.83 172.40 313.00 C173.37 318.17 174.45 323.83 175.30 328.00 C176.15 332.17 176.63 334.75 177.50 338.00 C178.37 341.25 179.50 344.02 180.50 347.50 C181.50 350.98 182.42 355.40 183.50 358.90 C184.58 362.40 185.62 365.92 187.00 368.50 C188.38 371.08 189.80 372.82 191.80 374.40 C193.80 375.98 196.13 377.10 199.00 378.00 C201.87 378.90 204.67 379.30 209.00 379.80 C213.33 380.30 222.33 380.80 225.00 381.00" fill="none" stroke="#ff0000" stroke-width="1.7" stroke-linejoin="round" stroke-dasharray="6 4.8"/>
<path d="M301.00 381.40 C307.50 381.40 330.67 381.47 340.00 381.40 C349.33 381.33 352.78 381.20 357.00 381.00 C361.22 380.80 363.23 380.70 365.30 380.20 C367.37 379.70 368.00 378.85 369.40 378.00 C370.80 377.15 372.27 376.30 373.70 375.10 C375.13 373.90 376.62 372.58 378.00 370.80 C379.38 369.02 380.85 366.67 382.00 364.40 C383.15 362.13 384.07 359.60 384.90 357.20 C385.73 354.80 386.38 352.53 387.00 350.00 C387.62 347.47 388.12 344.83 388.60 342.00 C389.08 339.17 389.53 336.00 389.90 333.00 C390.27 330.00 390.48 327.00 390.80 324.00 C391.12 321.00 391.37 317.83 391.80 315.00 C392.23 312.17 392.70 309.58 393.40 307.00 C394.10 304.42 395.30 301.27 396.00 299.50 C396.70 297.73 397.02 297.45 397.60 296.40 C398.18 295.35 398.88 294.03 399.50 293.20 C400.12 292.37 400.72 291.63 401.30 291.40 C401.88 291.17 402.47 291.50 403.00 291.80 C403.53 292.10 404.02 292.43 404.50 293.20 C404.98 293.97 405.10 294.62 405.90 296.40 C406.70 298.18 408.18 301.38 409.30 303.90 C410.42 306.42 411.65 308.82 412.60 311.50 C413.55 314.18 414.18 317.08 415.00 320.00 C415.82 322.92 416.67 325.95 417.50 329.00 C418.33 332.05 419.22 335.30 420.00 338.30 C420.78 341.30 421.12 343.57 422.20 347.00 C423.28 350.43 424.98 355.32 426.50 358.90 C428.02 362.48 429.50 365.72 431.30 368.50 C433.10 371.28 434.92 373.82 437.30 375.60 C439.68 377.38 442.62 378.40 445.60 379.20 C448.58 380.00 451.13 380.07 455.20 380.40 C459.27 380.73 459.48 381.03 470.00 381.20 C480.52 381.37 510.25 381.37 518.30 381.40 L518.30 381.60 L301.00 381.60 Z" fill="#999999" stroke="none"/>
<path d="M345.00 381.20 C347.98 380.97 358.72 380.53 362.90 379.80 C367.08 379.07 367.60 378.48 370.10 376.80 C372.60 375.12 375.72 372.68 377.90 369.70 C380.08 366.72 381.63 362.85 383.20 358.90 C384.77 354.95 386.03 350.67 387.30 346.00 C388.57 341.33 389.62 335.80 390.80 330.90 C391.98 326.00 393.20 320.90 394.40 316.60 C395.60 312.30 396.68 308.22 398.00 305.10 C399.32 301.98 400.98 299.53 402.30 297.90 C403.62 296.27 404.72 295.42 405.90 295.30 C407.08 295.18 408.22 295.57 409.40 297.20 C410.58 298.83 411.80 301.87 413.00 305.10 C414.20 308.33 415.40 312.77 416.60 316.60 C417.80 320.43 419.05 324.53 420.20 328.10 C421.35 331.67 422.45 334.85 423.50 338.00 C424.55 341.15 425.30 343.52 426.50 347.00 C427.70 350.48 429.10 355.12 430.70 358.90 C432.30 362.68 434.02 366.72 436.10 369.70 C438.18 372.68 440.42 375.17 443.20 376.80 C445.98 378.43 449.17 378.93 452.80 379.50 C456.43 380.07 460.47 379.95 465.00 380.20 C469.53 380.45 477.50 380.87 480.00 381.00" fill="none" stroke="#0000ff" stroke-width="1.7" stroke-linejoin="round"/>
<path d="M345.00 381.20 C347.83 380.95 358.00 380.48 362.00 379.70 C366.00 378.92 366.58 378.20 369.00 376.50 C371.42 374.80 374.33 372.43 376.50 369.50 C378.67 366.57 380.42 362.82 382.00 358.90 C383.58 354.98 384.92 349.82 386.00 346.00 C387.08 342.18 387.70 339.23 388.50 336.00 C389.30 332.77 389.70 331.03 390.80 326.60 C391.90 322.17 393.67 314.42 395.10 309.40 C396.53 304.38 398.17 299.35 399.40 296.50 C400.63 293.65 401.55 293.22 402.50 292.30 C403.45 291.38 404.27 290.88 405.10 291.00 C405.93 291.12 406.68 291.75 407.50 293.00 C408.32 294.25 408.95 295.77 410.00 298.50 C411.05 301.23 412.58 305.67 413.80 309.40 C415.02 313.13 416.12 317.07 417.30 320.90 C418.48 324.73 419.82 328.82 420.90 332.40 C421.98 335.98 423.17 339.97 423.80 342.40 C424.43 344.83 423.85 344.25 424.70 347.00 C425.55 349.75 427.40 355.32 428.90 358.90 C430.40 362.48 431.90 365.72 433.70 368.50 C435.50 371.28 437.48 373.88 439.70 375.60 C441.92 377.32 443.95 378.03 447.00 378.80 C450.05 379.57 452.50 379.83 458.00 380.20 C463.50 380.57 476.33 380.87 480.00 381.00" fill="none" stroke="#0000ff" stroke-width="1.7" stroke-linejoin="round" stroke-dasharray="6 4.8"/>
<path d="M301.00 381.40 C308.33 381.33 335.28 381.27 345.00 381.00 C354.72 380.73 355.52 380.60 359.30 379.80 C363.08 379.00 365.10 377.88 367.70 376.20 C370.30 374.52 372.70 372.58 374.90 369.70 C377.10 366.82 379.32 362.68 380.90 358.90 C382.48 355.12 383.38 350.82 384.40 347.00 C385.42 343.18 386.17 339.63 387.00 336.00 C387.83 332.37 388.42 330.12 389.40 325.20 C390.38 320.28 391.87 312.37 392.90 306.50 C393.93 300.63 394.77 295.27 395.60 290.00 C396.43 284.73 397.02 279.02 397.90 274.90 C398.78 270.78 400.00 267.88 400.90 265.30 C401.80 262.72 402.50 260.98 403.30 259.40 C404.10 257.82 404.90 256.30 405.70 255.80 C406.50 255.30 407.30 255.62 408.10 256.40 C408.90 257.18 409.60 258.22 410.50 260.50 C411.40 262.78 412.60 266.90 413.50 270.10 C414.40 273.30 415.10 276.30 415.90 279.70 C416.70 283.10 417.47 286.27 418.30 290.50 C419.13 294.73 419.75 299.32 420.90 305.10 C422.05 310.88 423.77 318.55 425.20 325.20 C426.63 331.85 428.08 339.38 429.50 345.00 C430.92 350.62 432.20 354.78 433.70 358.90 C435.20 363.02 436.72 366.75 438.50 369.70 C440.28 372.65 442.02 375.08 444.40 376.60 C446.78 378.12 449.37 378.25 452.80 378.80 C456.23 379.35 460.47 379.55 465.00 379.90 C469.53 380.25 471.12 380.65 480.00 380.90 C488.88 381.15 511.92 381.32 518.30 381.40" fill="none" stroke="#ff0000" stroke-width="1.7" stroke-linejoin="round"/>
<path d="M345.00 381.00 C347.25 380.77 354.83 380.43 358.50 379.60 C362.17 378.77 364.42 377.68 367.00 376.00 C369.58 374.32 371.83 372.42 374.00 369.50 C376.17 366.58 378.43 362.25 380.00 358.50 C381.57 354.75 382.43 350.58 383.40 347.00 C384.37 343.42 385.05 340.15 385.80 337.00 C386.55 333.85 386.95 332.93 387.90 328.10 C388.85 323.27 390.62 313.35 391.50 308.00 C392.38 302.65 392.72 299.83 393.20 296.00 C393.68 292.17 393.92 289.12 394.40 285.00 C394.88 280.88 395.52 274.78 396.10 271.30 C396.68 267.82 397.30 266.28 397.90 264.10 C398.50 261.92 399.00 259.88 399.70 258.20 C400.40 256.52 401.10 255.20 402.10 254.00 C403.10 252.80 404.60 250.90 405.70 251.00 C406.80 251.10 407.60 251.82 408.70 254.60 C409.80 257.38 411.20 263.32 412.30 267.70 C413.40 272.08 414.50 277.10 415.30 280.90 C416.10 284.70 416.40 286.95 417.10 290.50 C417.80 294.05 418.38 296.65 419.50 302.20 C420.62 307.75 422.48 317.10 423.80 323.80 C425.12 330.50 426.65 338.53 427.40 342.40 C428.15 346.27 427.55 344.25 428.30 347.00 C429.05 349.75 430.50 355.32 431.90 358.90 C433.30 362.48 435.02 365.90 436.70 368.50 C438.38 371.10 439.78 372.92 442.00 374.50 C444.22 376.08 446.67 377.15 450.00 378.00 C453.33 378.85 457.00 379.13 462.00 379.60 C467.00 380.07 470.62 380.50 480.00 380.80 C489.38 381.10 511.92 381.30 518.30 381.40" fill="none" stroke="#ff0000" stroke-width="1.7" stroke-linejoin="round" stroke-dasharray="6 4.8"/>
<rect x="51.40" y="25.00" width="17.20" height="6.00" fill="#999999"/>
<line x1="51.40" y1="40.50" x2="68.60" y2="40.50" stroke="#0000ff" stroke-width="2.0"/>
<line x1="51.40" y1="53.00" x2="68.60" y2="53.00" stroke="#ff0000" stroke-width="2.0"/>
<line x1="51.40" y1="65.50" x2="68.60" y2="65.50" stroke="#000" stroke-width="2.0" stroke-dasharray="7 3"/>
<text x="72.80" y="30.90" class="lg">Current climate and population</text>
<text x="72.80" y="43.40" class="lg">Mid-century climate and current population</text>
<text x="72.80" y="55.90" class="lg">Mid-century climate and population</text>
<text x="72.80" y="68.40" class="lg">… with cool roofs</text>
<text x="152.5" y="10.4" class="ti" text-anchor="middle">‘HOT’ SCENARIO</text>
<text x="407.7" y="10.4" class="ti" text-anchor="middle">‘WARM’ SCENARIO</text>
<text x="152.90" y="207.00" class="xl" text-anchor="middle">Daily maximum air temp. <tspan dx="-1">(°</tspan><tspan font-family="Liberation Serif">C</tspan>)</text>
<text x="407.70" y="207.00" class="xl" text-anchor="middle">Daily maximum air temp. <tspan dx="-1">(°</tspan><tspan font-family="Liberation Serif">C</tspan>)</text>
<text x="153.80" y="412.30" class="xl" text-anchor="middle">Daily minimum air temp. <tspan dx="-1">(°</tspan><tspan font-family="Liberation Serif">C</tspan>)</text>
<text x="409.00" y="412.30" class="xl" text-anchor="middle">Daily minimum air temp. <tspan dx="-1">(°</tspan><tspan font-family="Liberation Serif">C</tspan>)</text>
<text transform="translate(10.6 101.45) rotate(-90)" class="yl" text-anchor="middle">Population exposure</text>
<text transform="translate(26.4 101.95) rotate(-90)" class="yl" text-anchor="middle">(person-day, millions)</text>
<text transform="translate(10.6 301.45) rotate(-90)" class="yl" text-anchor="middle">Population exposure</text>
<text transform="translate(26.4 301.95) rotate(-90)" class="yl" text-anchor="middle">(person-day, millions)</text>
</svg>
</body></html>
